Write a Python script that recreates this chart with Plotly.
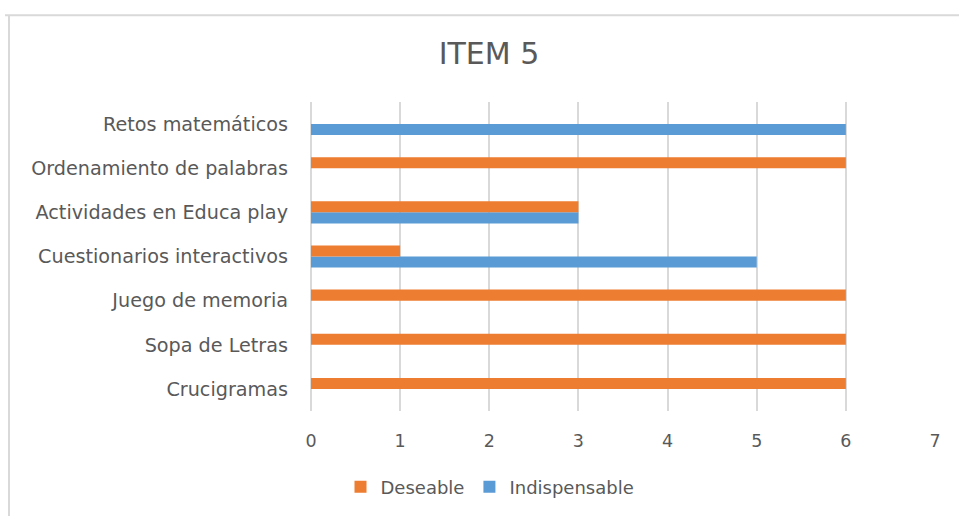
import plotly.graph_objects as go

categories = ["Crucigramas", "Sopa de Letras", "Juego de memoria",
              "Cuestionarios interactivos", "Actividades en Educa play",
              "Ordenamiento de palabras", "Retos matemáticos"]
deseable = [6, 6, 6, 1, 3, 6, 0]
indispensable = [0, 0, 0, 5, 3, 0, 6]
x_ticks = [0, 1, 2, 3, 4, 5, 6, 7]

ORANGE = "#ED7D31"
BLUE = "#5B9BD5"
GRID = "#D9D9D9"
TEXT = "#595959"
FONT = "DejaVu Sans"

fig = go.Figure()
fig.add_trace(go.Bar(y=categories, x=indispensable, name="Indispensable",
                     orientation="h", marker=dict(color=BLUE, line=dict(width=0))))
fig.add_trace(go.Bar(y=categories, x=deseable, name="Deseable",
                     orientation="h", marker=dict(color=ORANGE, line=dict(width=0))))

L, R, T, B = 311, 24, 102, 104
W, H = 959, 516
pw, ph = W - L - R, H - T - B

def px(xp):
    return (xp - L) / pw

def py(yp):
    return (H - B - yp) / ph

fig.update_layout(
    width=W, height=H,
    margin=dict(l=L, r=R, t=T, b=B),
    paper_bgcolor="white", plot_bgcolor="white",
    barmode="group", bargap=0.5, bargroupgap=0,
    font=dict(family=FONT, color=TEXT, size=17),
    title=dict(text="ITEM 5", x=489 / W, xref="container", xanchor="center",
               y=1 - 53 / H, yref="container", yanchor="middle",
               font=dict(family=FONT, size=30, color=TEXT)),
    xaxis=dict(range=[0, 7], tickvals=x_ticks, showgrid=True, gridcolor=GRID,
               gridwidth=1.5, zeroline=True, zerolinecolor=GRID, zerolinewidth=1.5,
               showline=False, ticks="", ticklabelstandoff=17,
               tickfont=dict(size=17.5, color=TEXT), fixedrange=True),
    yaxis=dict(categoryorder="array", categoryarray=categories, showgrid=False,
               zeroline=False, showline=False, ticks="", ticklabelstandoff=22,
               tickfont=dict(size=19.2, color=TEXT)),
    legend=dict(orientation="h", x=px(490), xanchor="center", y=py(487),
                yanchor="middle", traceorder="reversed",
                font=dict(size=18, color=TEXT), itemwidth=30,
                bgcolor="rgba(0,0,0,0)"),
    showlegend=True,
    shapes=[
        dict(type="line", xref="paper", yref="paper", x0=px(5), x1=px(960),
             y0=py(15), y1=py(15), line=dict(color=GRID, width=2)),
        dict(type="line", xref="paper", yref="paper", x0=px(9), x1=px(9),
             y0=py(15), y1=py(520), line=dict(color=GRID, width=2)),
    ],
)

fig.write_html("out.html")
